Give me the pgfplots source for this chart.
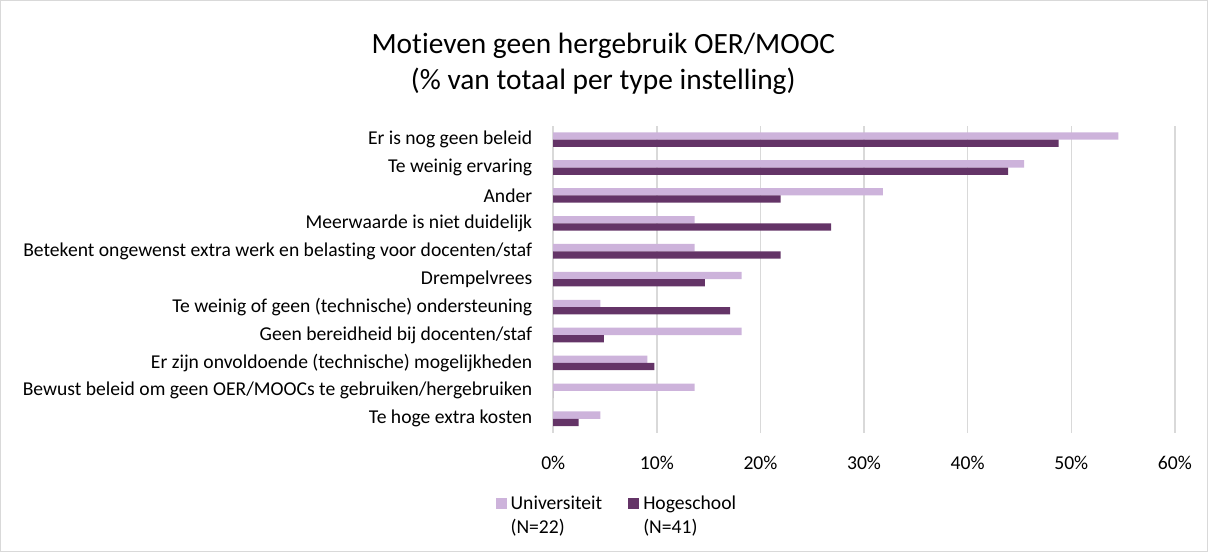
\documentclass[border=0pt]{standalone}
\usepackage{fontspec}
\setmainfont{Carlito}[Ligatures=NoCommon]
\usepackage{pgfplots}
\pgfplotsset{compat=1.18}
\definecolor{uni}{HTML}{CDB3DB}
\definecolor{hbo}{HTML}{643467}
\definecolor{gridc}{HTML}{D9D9D9}
\begin{document}
\begin{tikzpicture}
\draw[gridc, line width=0.6pt] (-276.25pt,-59.5pt) rectangle (327pt,216pt);
\node[font=\fontsize{14.7}{18}\selectfont, align=center, inner sep=0pt] at (25pt,184.5pt)
  {Motieven geen hergebruik OER/MOOC\\(\% van totaal per type instelling)};
\begin{axis}[
  at={(0pt,0pt)}, anchor=south west, scale only axis,
  width=310.75pt, height=153.5pt,
  xmin=0, xmax=60, ymin=-0.5, ymax=10.5,
  xbar, bar width=3.65pt,
  axis line style={draw=none},
  major tick length=0pt,
  xmajorgrids, grid style={gridc, line width=0.75pt},
  xtick={0,10,20,30,40,50,60},
  xticklabels={0\%,10\%,20\%,30\%,40\%,50\%,60\%},
  ytick={0,1,2,3,4,5,6,7,8,9,10},
  yticklabels={Te hoge extra kosten,
    Bewust beleid om geen OER/MOOCs te gebruiken/hergebruiken,
    Er zijn onvoldoende (technische) mogelijkheden,
    Geen bereidheid bij docenten/staf,
    Te weinig of geen (technische) ondersteuning,
    Drempelvrees,
    Betekent ongewenst extra werk en belasting voor docenten/staf,
    Meerwaarde is niet duidelijk,
    Ander,
    Te weinig ervaring,
    Er is nog geen beleid},
  tick label style={font=\fontsize{9.8}{12}\selectfont, text=black},
  xticklabel style={yshift=-8pt},
  yticklabel style={xshift=-7pt},
  legend style={at={(-0.0933,-0.18)}, anchor=north west, draw=none, fill=none,
    inner sep=0pt, legend columns=2, font=\fontsize{9.8}{12}\selectfont,
    /tikz/every even column/.append style={column sep=11pt},
    nodes={anchor=base west}},
  legend image code/.code={\fill[#1,draw=none] (0pt,0pt) rectangle (5.5pt,5.5pt);},
]
\addplot[fill=uni, draw=none, bar shift=1.825pt] coordinates {
  (54.55,10) (45.45,9) (31.82,8) (13.64,7) (13.64,6) (18.18,5)
  (4.55,4) (18.18,3) (9.09,2) (13.64,1) (4.55,0)};
\addlegendentry{\begin{tabular}[t]{@{}l@{}}Universiteit\\(N=22)\end{tabular}}
\addplot[fill=hbo, draw=none, bar shift=-1.825pt] coordinates {
  (48.78,10) (43.90,9) (21.95,8) (26.83,7) (21.95,6) (14.63,5)
  (17.07,4) (4.88,3) (9.76,2) (0,1) (2.44,0)};
\addlegendentry{\begin{tabular}[t]{@{}l@{}}Hogeschool\\(N=41)\end{tabular}}
\end{axis}
\end{tikzpicture}
\end{document}
